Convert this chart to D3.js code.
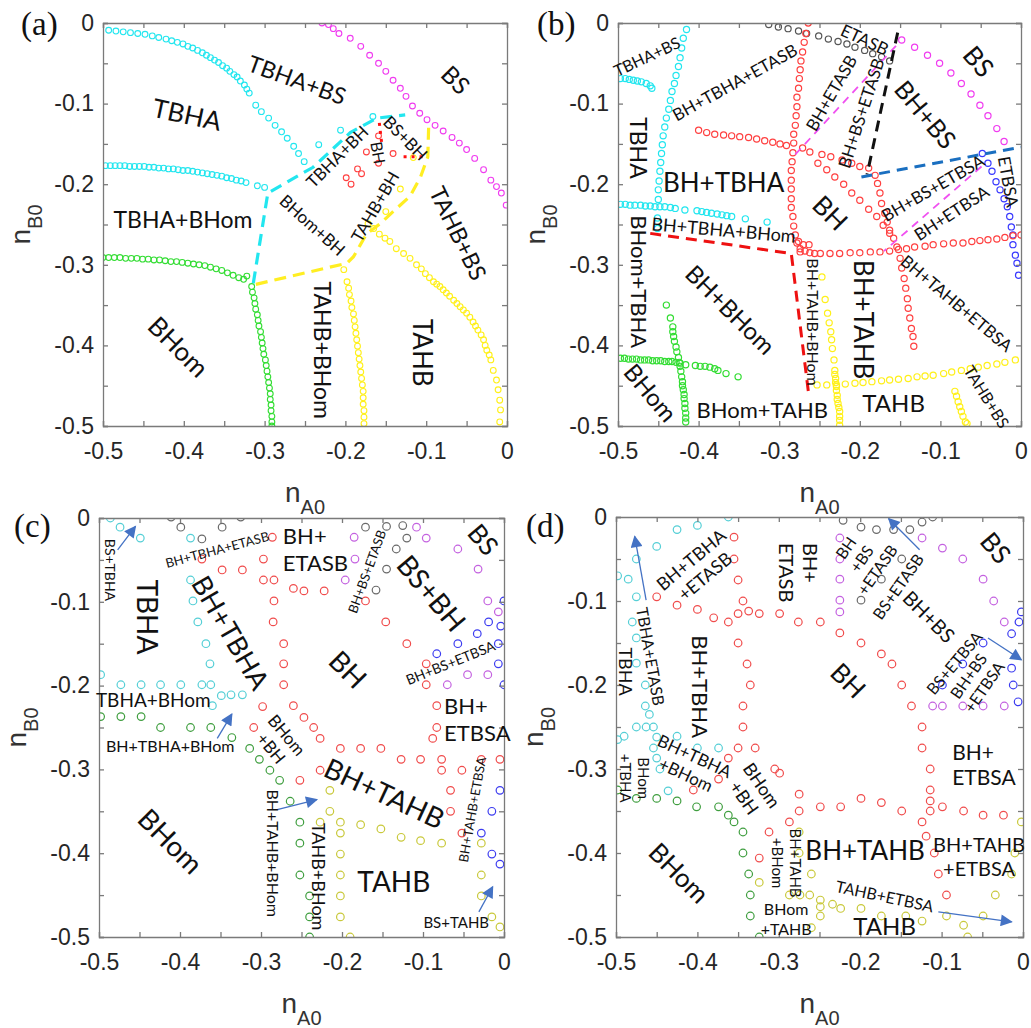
<!DOCTYPE html>
<html>
<head>
<meta charset="utf-8">
<script src="https://cdn.jsdelivr.net/npm/d3@7"></script>
<style>
  body { margin: 0; background: #fff; }
  svg { display: block; }
  .lbl { font-family: Lato, "Open Sans", sans-serif; fill: #111; }
  .axis text { font-family: "Liberation Sans", Arial, sans-serif; fill: #262626; }
  .axis path, .axis line { stroke: #7a7a7a; stroke-width: 1.3; }
  .alabel { font-family: "Liberation Sans", Arial, sans-serif; fill: #333; }
  .tag { font-family: "Liberation Serif", "DejaVu Serif", serif; fill: #111; }
</style>
</head>
<body>
<svg id="fig" width="1031" height="1028"></svg>
<script>
/* ========= ticks ========= */
const TICKS = [-0.5,-0.45,-0.4,-0.35,-0.3,-0.25,-0.2,-0.15,-0.1,-0.05,0];
const TICK_LABELS = ["-0.5","-0.4","-0.3","-0.2","-0.1","0"];

/* ========= (a) ========= */
const A_cyan1 = [[-0.493,-0.009],[-0.484,-0.010],[-0.475,-0.011],[-0.466,-0.012],[-0.457,-0.013],[-0.448,-0.014],[-0.439,-0.016],[-0.431,-0.018],[-0.422,-0.020],[-0.415,-0.022],[-0.408,-0.024],[-0.401,-0.026],[-0.395,-0.029],[-0.389,-0.031],[-0.383,-0.034],[-0.377,-0.037],[-0.372,-0.040],[-0.367,-0.043],[-0.362,-0.046],[-0.357,-0.049],[-0.352,-0.053],[-0.347,-0.056],[-0.343,-0.060],[-0.338,-0.064],[-0.334,-0.067],[-0.330,-0.072],[-0.325,-0.077],[-0.322,-0.082],[-0.319,-0.087],[-0.311,-0.102],[-0.304,-0.110],[-0.295,-0.118],[-0.287,-0.127],[-0.279,-0.135],[-0.272,-0.143],[-0.264,-0.153],[-0.258,-0.162],[-0.251,-0.172]];
const A_cyan2 = [[-0.497,-0.177],[-0.491,-0.177],[-0.485,-0.177],[-0.479,-0.177],[-0.473,-0.177],[-0.467,-0.178],[-0.461,-0.178],[-0.455,-0.178],[-0.449,-0.178],[-0.443,-0.179],[-0.437,-0.179],[-0.431,-0.180],[-0.425,-0.180],[-0.419,-0.181],[-0.413,-0.181],[-0.407,-0.182],[-0.401,-0.183],[-0.395,-0.183],[-0.389,-0.184],[-0.383,-0.185],[-0.377,-0.186],[-0.371,-0.187],[-0.365,-0.188],[-0.359,-0.189],[-0.353,-0.190],[-0.347,-0.192],[-0.341,-0.193],[-0.335,-0.195],[-0.329,-0.196],[-0.323,-0.198],[-0.309,-0.202],[-0.300,-0.204]];
const A_cyan3 = [[-0.233,-0.151],[-0.206,-0.133],[-0.166,-0.116]];
const A_magenta = [[-0.229,0.000],[-0.221,-0.002],[-0.215,-0.007],[-0.208,-0.013],[-0.194,-0.019],[-0.181,-0.029],[-0.170,-0.040],[-0.159,-0.050],[-0.150,-0.060],[-0.141,-0.071],[-0.132,-0.081],[-0.125,-0.091],[-0.117,-0.103],[-0.108,-0.112],[-0.099,-0.120],[-0.089,-0.127],[-0.079,-0.134],[-0.068,-0.142],[-0.059,-0.149],[-0.050,-0.157],[-0.040,-0.168],[-0.029,-0.182],[-0.020,-0.195],[-0.013,-0.203],[-0.007,-0.211],[-0.001,-0.226]];
const A_red = [[-0.159,-0.140],[-0.174,-0.160],[-0.141,-0.162],[-0.159,-0.174],[-0.199,-0.192],[-0.193,-0.200],[-0.185,-0.181],[-0.180,-0.187]];
const A_yellow1 = [[-0.172,-0.249],[-0.165,-0.255],[-0.158,-0.262],[-0.151,-0.267],[-0.145,-0.271],[-0.137,-0.280],[-0.128,-0.286],[-0.120,-0.292],[-0.112,-0.300],[-0.106,-0.305],[-0.101,-0.311],[-0.096,-0.316],[-0.091,-0.321],[-0.087,-0.324],[-0.083,-0.327],[-0.079,-0.331],[-0.075,-0.335],[-0.071,-0.339],[-0.066,-0.344],[-0.062,-0.348],[-0.058,-0.352],[-0.054,-0.356],[-0.050,-0.360],[-0.046,-0.365],[-0.042,-0.371],[-0.039,-0.376],[-0.036,-0.381],[-0.032,-0.387],[-0.029,-0.393],[-0.027,-0.400],[-0.025,-0.406],[-0.022,-0.412],[-0.020,-0.418],[-0.017,-0.431],[-0.013,-0.443],[-0.011,-0.455],[-0.009,-0.468],[-0.008,-0.480],[-0.009,-0.495]];
const A_yellow2 = [[-0.202,-0.306],[-0.198,-0.321],[-0.196,-0.329],[-0.195,-0.337],[-0.193,-0.345],[-0.192,-0.353],[-0.190,-0.361],[-0.189,-0.369],[-0.188,-0.377],[-0.187,-0.385],[-0.186,-0.393],[-0.185,-0.401],[-0.184,-0.409],[-0.183,-0.417],[-0.182,-0.425],[-0.181,-0.433],[-0.180,-0.441],[-0.179,-0.449],[-0.178,-0.457],[-0.178,-0.465],[-0.178,-0.473],[-0.177,-0.481],[-0.177,-0.489],[-0.177,-0.497]];
const A_yellow3 = [[-0.132,-0.206],[-0.150,-0.234],[-0.116,-0.167]];
const A_green1 = [[-0.500,-0.291],[-0.493,-0.291],[-0.486,-0.291],[-0.479,-0.291],[-0.472,-0.292],[-0.465,-0.292],[-0.458,-0.292],[-0.451,-0.293],[-0.444,-0.293],[-0.437,-0.294],[-0.430,-0.294],[-0.423,-0.295],[-0.416,-0.296],[-0.409,-0.296],[-0.402,-0.297],[-0.395,-0.298],[-0.388,-0.299],[-0.381,-0.300],[-0.374,-0.301],[-0.367,-0.303],[-0.360,-0.305],[-0.353,-0.307],[-0.346,-0.310],[-0.339,-0.313],[-0.332,-0.316],[-0.326,-0.318],[-0.322,-0.314]];
const A_green2 = [[-0.316,-0.327],[-0.315,-0.334],[-0.313,-0.341],[-0.312,-0.348],[-0.311,-0.355],[-0.309,-0.362],[-0.308,-0.369],[-0.307,-0.376],[-0.305,-0.383],[-0.304,-0.390],[-0.303,-0.397],[-0.302,-0.404],[-0.301,-0.411],[-0.299,-0.418],[-0.298,-0.425],[-0.297,-0.432],[-0.296,-0.439],[-0.295,-0.446],[-0.294,-0.453],[-0.293,-0.460],[-0.293,-0.467],[-0.292,-0.474],[-0.292,-0.481],[-0.291,-0.488],[-0.291,-0.495],[-0.291,-0.500]];
const A_dashCyan = [[-0.314,-0.323],[-0.296,-0.211],[-0.240,-0.179],[-0.194,-0.136],[-0.161,-0.118],[-0.126,-0.114]];
const A_dashYellow = [[-0.097,-0.130],[-0.098,-0.166],[-0.107,-0.191],[-0.120,-0.215],[-0.141,-0.234],[-0.157,-0.249],[-0.174,-0.262],[-0.190,-0.290],[-0.198,-0.298],[-0.314,-0.325]];
const A_dotRed1 = [[-0.158,-0.124],[-0.155,-0.150]];
const A_dotRed2 = [[-0.128,-0.166],[-0.101,-0.166]];
const A_labels = [
  {t:"TBHA+BS", x:-0.260, y:-0.071, rot:20, size:23},
  {t:"BS", x:-0.064, y:-0.071, rot:45, size:24},
  {t:"TBHA", x:-0.396, y:-0.114, rot:12, size:26},
  {t:"TBHA+BH", x:-0.210, y:-0.166, rot:-45, size:17},
  {t:"BS+BH", x:-0.126, y:-0.143, rot:45, size:17},
  {t:"BH", x:-0.160, y:-0.161, rot:80, size:16},
  {t:"TAHB+BH", x:-0.163, y:-0.228, rot:-60, size:17},
  {t:"BHom+BH", x:-0.241, y:-0.251, rot:42, size:17},
  {t:"TAHB+BS", x:-0.061, y:-0.261, rot:64, size:23},
  {t:"TBHA+BHom", x:-0.401, y:-0.244, rot:0, size:23},
  {t:"BHom", x:-0.407, y:-0.402, rot:45, size:26},
  {t:"TAHB+BHom", x:-0.229, y:-0.406, rot:90, size:23},
  {t:"TAHB", x:-0.105, y:-0.409, rot:90, size:26}
];

/* ========= (b) ========= */
const B_cyan1 = [[-0.497,-0.069],[-0.491,-0.069],[-0.486,-0.070],[-0.481,-0.071],[-0.476,-0.072],[-0.471,-0.073],[-0.465,-0.075],[-0.460,-0.078],[-0.458,-0.081]];
const B_cyan2 = [[-0.415,-0.008],[-0.419,-0.019],[-0.421,-0.031],[-0.423,-0.043],[-0.425,-0.054],[-0.428,-0.065],[-0.430,-0.075],[-0.433,-0.085],[-0.435,-0.096],[-0.437,-0.107],[-0.440,-0.118],[-0.442,-0.129],[-0.444,-0.140],[-0.445,-0.151],[-0.446,-0.162],[-0.447,-0.173],[-0.448,-0.184],[-0.449,-0.196],[-0.450,-0.207],[-0.450,-0.219],[-0.451,-0.242],[-0.451,-0.255]];
const B_cyan3 = [[-0.497,-0.225],[-0.491,-0.225],[-0.485,-0.226],[-0.479,-0.226],[-0.472,-0.226],[-0.466,-0.227],[-0.460,-0.227],[-0.454,-0.228],[-0.448,-0.228],[-0.442,-0.228],[-0.435,-0.229],[-0.429,-0.230],[-0.417,-0.232],[-0.402,-0.233],[-0.396,-0.234],[-0.390,-0.235],[-0.384,-0.236],[-0.377,-0.237],[-0.371,-0.238],[-0.365,-0.239],[-0.359,-0.240],[-0.342,-0.243],[-0.315,-0.247]];
const B_gray = [[-0.313,-0.002],[-0.301,-0.005],[-0.289,-0.007],[-0.276,-0.010],[-0.266,-0.013],[-0.251,-0.016],[-0.239,-0.020],[-0.227,-0.023],[-0.216,-0.026],[-0.206,-0.030],[-0.194,-0.034],[-0.184,-0.038],[-0.173,-0.042],[-0.163,-0.047]];
const B_magenta = [[-0.148,-0.021],[-0.132,-0.030],[-0.116,-0.040],[-0.101,-0.050],[-0.087,-0.062],[-0.074,-0.075],[-0.062,-0.088],[-0.051,-0.102],[-0.041,-0.115],[-0.030,-0.131],[-0.021,-0.147]];
const B_blue = [[-0.048,-0.162],[-0.041,-0.174],[-0.036,-0.184],[-0.031,-0.197],[-0.026,-0.207],[-0.021,-0.218],[-0.017,-0.228],[-0.014,-0.240],[-0.012,-0.253],[-0.010,-0.263],[-0.010,-0.275],[-0.007,-0.288],[-0.005,-0.298],[-0.003,-0.313]];
const B_red1 = [[-0.264,0.000],[-0.267,-0.013],[-0.269,-0.024],[-0.271,-0.036],[-0.273,-0.047],[-0.274,-0.058],[-0.275,-0.069],[-0.276,-0.081],[-0.278,-0.092],[-0.278,-0.104],[-0.279,-0.115],[-0.280,-0.127],[-0.282,-0.138],[-0.282,-0.149],[-0.283,-0.161],[-0.284,-0.172],[-0.285,-0.183],[-0.285,-0.195],[-0.285,-0.206],[-0.285,-0.218],[-0.285,-0.229],[-0.283,-0.240],[-0.282,-0.252],[-0.280,-0.263],[-0.276,-0.271],[-0.270,-0.275],[-0.278,-0.273],[-0.274,-0.280],[-0.268,-0.283],[-0.263,-0.275],[-0.256,-0.286]];
const B_red2 = [[-0.400,-0.133],[-0.390,-0.136],[-0.380,-0.138],[-0.369,-0.139],[-0.359,-0.140],[-0.349,-0.141],[-0.338,-0.142],[-0.328,-0.144],[-0.318,-0.146],[-0.308,-0.148],[-0.299,-0.150],[-0.291,-0.152],[-0.271,-0.155],[-0.262,-0.160],[-0.247,-0.163],[-0.236,-0.166],[-0.222,-0.170],[-0.210,-0.174],[-0.200,-0.178],[-0.189,-0.180],[-0.181,-0.189],[-0.178,-0.199],[-0.175,-0.211],[-0.173,-0.224],[-0.169,-0.236],[-0.166,-0.247],[-0.163,-0.257],[-0.158,-0.267],[-0.154,-0.278]];
const B_red3 = [[-0.252,-0.174],[-0.241,-0.182],[-0.231,-0.191],[-0.220,-0.200],[-0.210,-0.211],[-0.200,-0.220],[-0.189,-0.231],[-0.179,-0.240],[-0.171,-0.251],[-0.163,-0.261]];
const B_red4 = [[-0.274,-0.284],[-0.262,-0.285],[-0.249,-0.286],[-0.237,-0.286],[-0.225,-0.286],[-0.212,-0.285],[-0.200,-0.285],[-0.187,-0.284],[-0.175,-0.284],[-0.163,-0.283],[-0.152,-0.281],[-0.142,-0.280],[-0.132,-0.278],[-0.119,-0.277],[-0.109,-0.275],[-0.096,-0.274],[-0.084,-0.273],[-0.072,-0.273],[-0.061,-0.271],[-0.051,-0.270],[-0.041,-0.269],[-0.030,-0.268],[-0.020,-0.266],[-0.010,-0.264],[0.000,-0.263]];
const B_red5 = [[-0.150,-0.292],[-0.148,-0.304],[-0.145,-0.317],[-0.143,-0.329],[-0.141,-0.342],[-0.140,-0.354],[-0.138,-0.366],[-0.136,-0.379],[-0.134,-0.389],[-0.133,-0.401]];
const B_yellow1 = [[-0.253,-0.449],[-0.241,-0.449],[-0.229,-0.449],[-0.218,-0.448],[-0.206,-0.447],[-0.196,-0.446],[-0.185,-0.445],[-0.173,-0.444],[-0.163,-0.443],[-0.152,-0.442],[-0.140,-0.441],[-0.129,-0.439],[-0.119,-0.438],[-0.109,-0.437],[-0.096,-0.435],[-0.086,-0.433],[-0.074,-0.431],[-0.063,-0.429],[-0.053,-0.427],[-0.042,-0.425],[-0.030,-0.423],[-0.020,-0.421],[-0.007,-0.418]];
const B_yellow2 = [[-0.247,-0.315],[-0.243,-0.343],[-0.240,-0.360],[-0.238,-0.372],[-0.236,-0.383],[-0.235,-0.393],[-0.234,-0.404],[-0.232,-0.418],[-0.231,-0.431],[-0.231,-0.436],[-0.230,-0.441],[-0.230,-0.446],[-0.229,-0.451],[-0.229,-0.456],[-0.228,-0.462],[-0.228,-0.467],[-0.227,-0.472],[-0.226,-0.477],[-0.225,-0.482],[-0.225,-0.488],[-0.225,-0.493],[-0.225,-0.499]];
const B_yellow3 = [[-0.082,-0.457],[-0.080,-0.463],[-0.078,-0.470],[-0.076,-0.476],[-0.074,-0.482],[-0.072,-0.488],[-0.069,-0.495],[-0.067,-0.497]];
const B_green1 = [[-0.497,-0.416],[-0.492,-0.416],[-0.487,-0.417],[-0.482,-0.417],[-0.477,-0.417],[-0.472,-0.418],[-0.467,-0.418],[-0.462,-0.418],[-0.457,-0.419],[-0.452,-0.419],[-0.447,-0.419],[-0.442,-0.420],[-0.437,-0.420],[-0.433,-0.420],[-0.428,-0.421],[-0.423,-0.422],[-0.416,-0.424],[-0.404,-0.425],[-0.398,-0.426],[-0.392,-0.426],[-0.386,-0.427],[-0.380,-0.429],[-0.376,-0.431],[-0.366,-0.435],[-0.351,-0.439]];
const B_green2 = [[-0.440,-0.350],[-0.435,-0.366],[-0.432,-0.377],[-0.432,-0.383],[-0.431,-0.389],[-0.430,-0.395],[-0.428,-0.402],[-0.427,-0.408],[-0.425,-0.415],[-0.424,-0.421],[-0.423,-0.426],[-0.422,-0.432],[-0.421,-0.439],[-0.420,-0.445],[-0.420,-0.450],[-0.419,-0.455],[-0.418,-0.461],[-0.418,-0.466],[-0.417,-0.472],[-0.417,-0.478],[-0.416,-0.484],[-0.416,-0.490],[-0.416,-0.495]];
const B_dashRed = [[-0.460,-0.261],[-0.285,-0.286],[-0.263,-0.464]];
const B_dashMag1 = [[-0.280,-0.163],[-0.152,-0.025]];
const B_dashMag2 = [[-0.049,-0.178],[-0.170,-0.283]];
const B_dashBlack = [[-0.153,-0.012],[-0.191,-0.188]];
const B_dashBlue = [[-0.198,-0.191],[0.000,-0.154]];
const B_labels = [
  {t:"TBHA+BS", x:-0.464, y:-0.042, rot:-25, size:16},
  {t:"BH+TBHA+ETASB", x:-0.355, y:-0.074, rot:-29, size:17},
  {t:"TBHA", x:-0.475, y:-0.155, rot:90, size:23},
  {t:"BH+TBHA", x:-0.369, y:-0.198, rot:0, size:26},
  {t:"BH+TBHA+BHom", x:-0.369, y:-0.257, rot:5, size:18},
  {t:"BHom+TBHA", x:-0.474, y:-0.321, rot:90, size:22},
  {t:"BHom", x:-0.460, y:-0.459, rot:50, size:24},
  {t:"BH+BHom", x:-0.361, y:-0.356, rot:45, size:24},
  {t:"BHom+TAHB", x:-0.321, y:-0.480, rot:0, size:22},
  {t:"BH+TAHB+BHom", x:-0.259, y:-0.371, rot:90, size:16},
  {t:"BH+TAHB", x:-0.196, y:-0.368, rot:90, size:26},
  {t:"TAHB", x:-0.158, y:-0.472, rot:0, size:24},
  {t:"BH+TAHB+ETBSA", x:-0.080, y:-0.348, rot:40, size:17},
  {t:"TAHB+BS", x:-0.043, y:-0.464, rot:58, size:16},
  {t:"ETASB", x:-0.194, y:-0.021, rot:25, size:17},
  {t:"BH+ETASB", x:-0.235, y:-0.087, rot:-60, size:17},
  {t:"BH+BS+ETASB", x:-0.198, y:-0.112, rot:-72, size:17},
  {t:"BH+BS", x:-0.119, y:-0.114, rot:50, size:25},
  {t:"BS", x:-0.053, y:-0.048, rot:50, size:26},
  {t:"BH+BS+ETBSA", x:-0.109, y:-0.205, rot:-30, size:17},
  {t:"BH+ETBSA", x:-0.086, y:-0.236, rot:-33, size:17},
  {t:"ETBSA", x:-0.016, y:-0.197, rot:80, size:17},
  {t:"BH", x:-0.237, y:-0.236, rot:45, size:26}
];

/* ========= (c) ========= */
const C_cyan = [[-0.486,0.000],[-0.474,-0.011],[-0.449,-0.024],[-0.387,-0.024],[-0.387,-0.074],[-0.384,-0.099],[-0.378,-0.124],[-0.368,-0.150],[-0.363,-0.174],[-0.498,-0.187],[-0.473,-0.199],[-0.448,-0.199],[-0.424,-0.199],[-0.399,-0.199],[-0.373,-0.199],[-0.362,-0.199],[-0.349,-0.212],[-0.337,-0.211],[-0.323,-0.211],[-0.360,-0.224]];
const C_gray = [[-0.411,0.001],[-0.399,-0.011],[-0.373,-0.025],[-0.348,-0.011],[-0.325,0.001],[-0.171,-0.011],[-0.145,-0.010],[-0.125,-0.009],[-0.120,-0.024],[-0.133,-0.037],[-0.145,-0.061],[-0.158,-0.086]];
const C_magenta = [[-0.185,-0.023],[-0.184,-0.049],[-0.196,-0.074],[-0.108,-0.011],[-0.096,-0.024],[-0.057,-0.037],[-0.032,-0.061],[-0.020,-0.099],[-0.007,-0.112],[-0.045,-0.187],[-0.020,-0.187],[-0.070,-0.199]];
const C_blue = [[0.000,-0.099],[-0.019,-0.124],[-0.004,-0.129],[-0.033,-0.138],[-0.057,-0.150],[-0.007,-0.150],[-0.083,-0.162],[-0.007,-0.174],[0.000,-0.199],[-0.005,-0.325],[-0.015,-0.350],[-0.028,-0.376],[-0.015,-0.401],[-0.005,-0.413]];
const C_red = [[-0.286,-0.023],[-0.373,-0.049],[-0.348,-0.062],[-0.323,-0.062],[-0.297,-0.049],[-0.297,-0.074],[-0.284,-0.074],[-0.284,-0.099],[-0.285,-0.124],[-0.298,-0.225],[-0.309,-0.250],[-0.260,-0.084],[-0.247,-0.087],[-0.222,-0.087],[-0.272,-0.150],[-0.272,-0.174],[-0.272,-0.199],[-0.260,-0.224],[-0.247,-0.238],[-0.235,-0.250],[-0.171,-0.099],[-0.146,-0.124],[-0.120,-0.150],[-0.096,-0.174],[-0.096,-0.199],[-0.083,-0.224],[-0.083,-0.250],[-0.227,-0.263],[-0.202,-0.275],[-0.177,-0.275],[-0.152,-0.275],[-0.127,-0.288],[-0.103,-0.288],[-0.077,-0.288],[-0.077,-0.301],[-0.052,-0.301],[-0.028,-0.288],[-0.005,-0.288],[-0.227,-0.301],[-0.252,-0.313],[-0.066,-0.325],[-0.066,-0.350],[-0.052,-0.376],[-0.088,-0.263]];
const C_green = [[-0.498,-0.237],[-0.473,-0.237],[-0.448,-0.237],[-0.424,-0.250],[-0.387,-0.250],[-0.362,-0.250],[-0.336,-0.262],[-0.314,-0.275],[-0.302,-0.288],[-0.289,-0.301],[-0.277,-0.313],[-0.264,-0.338],[-0.252,-0.363],[-0.252,-0.388],[-0.252,-0.426],[-0.240,-0.451],[-0.240,-0.476],[-0.240,-0.500]];
const C_yellow = [[-0.215,-0.325],[-0.215,-0.350],[-0.227,-0.363],[-0.202,-0.363],[-0.202,-0.376],[-0.177,-0.366],[-0.152,-0.371],[-0.127,-0.381],[-0.103,-0.385],[-0.077,-0.388],[-0.202,-0.401],[-0.202,-0.426],[-0.202,-0.451],[-0.202,-0.476],[-0.190,-0.500],[-0.028,-0.388],[-0.028,-0.426],[-0.028,-0.451],[-0.015,-0.476],[-0.005,-0.488]];
const C_arrows = [[[-0.477,-0.038],[-0.455,-0.010]],[[-0.354,-0.263],[-0.336,-0.234]],[[-0.280,-0.348],[-0.231,-0.336]],[[-0.031,-0.470],[-0.014,-0.440]]];
const C_labels = [
  {t:"BS+TBHA", x:-0.486, y:-0.062, rot:90, size:14},
  {t:"BH+TBHA+ETASB", x:-0.354, y:-0.038, rot:-15, size:13},
  {t:"TBHA", x:-0.441, y:-0.118, rot:90, size:28},
  {t:"BH+TBHA", x:-0.338, y:-0.137, rot:60, size:27},
  {t:"TBHA+BHom", x:-0.433, y:-0.217, rot:0, size:19},
  {t:"BH+TBHA+BHom", x:-0.412, y:-0.273, rot:0, size:16},
  {t:["BHom","+BH"], x:-0.278, y:-0.267, rot:50, size:17},
  {t:"BH+TAHB+BHom", x:-0.286, y:-0.400, rot:90, size:16},
  {t:"TAHB+BHom", x:-0.229, y:-0.428, rot:90, size:18},
  {t:"BH+TAHB", x:-0.148, y:-0.329, rot:25, size:28},
  {t:"TAHB", x:-0.136, y:-0.434, rot:0, size:28},
  {t:"BHom", x:-0.412, y:-0.386, rot:45, size:28},
  {t:"BH+TAHB+ETBSA", x:-0.039, y:-0.348, rot:-80, size:13},
  {t:"BS+TAHB", x:-0.059, y:-0.483, rot:0, size:15},
  {t:["BH+","ETASB"], x:-0.273, y:-0.038, rot:0, size:22, anchor:"start"},
  {t:"BH+BS+ETASB", x:-0.169, y:-0.064, rot:-70, size:13},
  {t:"BS+BH", x:-0.090, y:-0.090, rot:50, size:28},
  {t:"BS", x:-0.026, y:-0.026, rot:50, size:26},
  {t:"BH", x:-0.193, y:-0.181, rot:45, size:28},
  {t:"BH+BS+ETBSA", x:-0.066, y:-0.173, rot:-22, size:14},
  {t:["BH+","ETBSA"], x:-0.074, y:-0.241, rot:0, size:22, anchor:"start"}
];

/* ========= (d) ========= */
const D_cyan = [[-0.400,-0.010],[-0.425,-0.015],[-0.362,0.000],[-0.450,-0.035],[-0.475,-0.050],[-0.498,-0.070],[-0.485,-0.074],[-0.475,-0.095],[-0.480,-0.125],[-0.475,-0.144],[-0.475,-0.174],[-0.464,-0.200],[-0.464,-0.225],[-0.459,-0.235],[-0.475,-0.250],[-0.463,-0.250],[-0.454,-0.250],[-0.490,-0.261],[-0.498,-0.265],[-0.450,-0.262],[-0.425,-0.261],[-0.450,-0.287],[-0.454,-0.275],[-0.400,-0.275],[-0.374,-0.275],[-0.446,-0.300],[-0.436,-0.326]];
const D_gray = [[-0.221,-0.004],[-0.199,-0.012],[-0.180,-0.015],[-0.159,-0.015],[-0.139,-0.015],[-0.124,-0.006],[-0.111,0.000],[-0.149,-0.050],[-0.174,-0.074],[-0.199,-0.099]];
const D_magenta = [[-0.225,-0.025],[-0.225,-0.050],[-0.225,-0.074],[-0.225,-0.099],[-0.225,-0.113],[-0.124,-0.025],[-0.099,-0.037],[-0.074,-0.050],[-0.049,-0.074],[-0.036,-0.100],[-0.023,-0.125],[-0.111,-0.225],[-0.099,-0.225],[-0.074,-0.225],[-0.049,-0.225],[-0.023,-0.225]];
const D_blue = [[-0.002,-0.113],[-0.005,-0.125],[-0.014,-0.139],[-0.049,-0.150],[-0.074,-0.175],[-0.014,-0.180],[-0.099,-0.200],[-0.012,-0.200],[-0.006,-0.220]];
const D_red = [[-0.355,-0.024],[-0.355,-0.050],[-0.350,-0.075],[-0.450,-0.095],[-0.425,-0.105],[-0.400,-0.110],[-0.380,-0.120],[-0.362,-0.125],[-0.350,-0.115],[-0.344,-0.100],[-0.337,-0.112],[-0.324,-0.115],[-0.299,-0.115],[-0.276,-0.125],[-0.350,-0.150],[-0.339,-0.175],[-0.335,-0.200],[-0.344,-0.225],[-0.344,-0.250],[-0.350,-0.275],[-0.329,-0.275],[-0.362,-0.287],[-0.374,-0.312],[-0.405,-0.325],[-0.305,-0.300],[-0.299,-0.305],[-0.275,-0.330],[-0.275,-0.350],[-0.287,-0.363],[-0.312,-0.375],[-0.324,-0.406],[-0.249,-0.345],[-0.224,-0.345],[-0.199,-0.335],[-0.174,-0.340],[-0.149,-0.350],[-0.124,-0.363],[-0.119,-0.380],[-0.109,-0.400],[-0.104,-0.425],[-0.094,-0.450],[-0.114,-0.350],[-0.114,-0.338],[-0.114,-0.325],[-0.114,-0.300],[-0.099,-0.345],[-0.073,-0.350],[-0.049,-0.355],[-0.024,-0.355],[-0.249,-0.125],[-0.225,-0.138],[-0.199,-0.150],[-0.174,-0.163],[-0.161,-0.175],[-0.149,-0.200],[-0.137,-0.225],[-0.124,-0.250],[-0.124,-0.275]];
const D_green = [[-0.498,-0.325],[-0.475,-0.335],[-0.450,-0.335],[-0.425,-0.338],[-0.401,-0.345],[-0.374,-0.345],[-0.362,-0.355],[-0.355,-0.363],[-0.344,-0.375],[-0.344,-0.400],[-0.337,-0.425],[-0.335,-0.450],[-0.335,-0.475],[-0.324,-0.500]];
const D_yellow = [[-0.275,-0.375],[-0.275,-0.400],[-0.260,-0.425],[-0.324,-0.435],[-0.287,-0.450],[-0.274,-0.450],[-0.262,-0.450],[-0.249,-0.456],[-0.249,-0.464],[-0.249,-0.475],[-0.234,-0.461],[-0.224,-0.466],[-0.199,-0.466],[-0.174,-0.475],[-0.144,-0.475],[-0.124,-0.481],[-0.094,-0.475],[-0.073,-0.486],[-0.068,-0.500],[-0.049,-0.475],[-0.034,-0.450],[-0.014,-0.425],[-0.010,-0.400],[-0.002,-0.363],[-0.260,-0.489]];
const D_arrows = [[[-0.463,-0.099],[-0.477,-0.023]],[[-0.127,-0.039],[-0.165,-0.002]],[[-0.043,-0.144],[-0.002,-0.170]],[[-0.104,-0.470],[-0.014,-0.482]]];
const D_labels = [
  {t:["BH+TBHA","+ETASB"], x:-0.399, y:-0.061, rot:-40, size:18},
  {t:["BH+","ETASB"], x:-0.277, y:-0.031, rot:90, size:20, anchor:"start"},
  {t:"TBHA+ETASB", x:-0.458, y:-0.166, rot:80, size:16},
  {t:"TBHA", x:-0.489, y:-0.184, rot:90, size:18},
  {t:"BH+TBHA", x:-0.397, y:-0.202, rot:90, size:22},
  {t:["BHom","+TBHA"], x:-0.478, y:-0.311, rot:90, size:15},
  {t:["BH+TBHA","+BHom"], x:-0.409, y:-0.296, rot:25, size:17},
  {t:["BHom","+BH"], x:-0.332, y:-0.327, rot:55, size:18},
  {t:["BH+TAHB","+BHom"], x:-0.291, y:-0.412, rot:90, size:15},
  {t:"BH+TAHB", x:-0.194, y:-0.398, rot:0, size:26},
  {t:["BH+TAHB","+ETBSA"], x:-0.054, y:-0.405, rot:0, size:20},
  {t:"TAHB+ETBSA", x:-0.170, y:-0.452, rot:12, size:16},
  {t:["BHom","+TAHB"], x:-0.291, y:-0.479, rot:0, size:16},
  {t:"TAHB", x:-0.170, y:-0.488, rot:0, size:24},
  {t:"BHom", x:-0.423, y:-0.424, rot:45, size:26},
  {t:["BH+","ETBSA"], x:-0.087, y:-0.295, rot:0, size:21, anchor:"start"},
  {t:"BH", x:-0.215, y:-0.195, rot:45, size:26},
  {t:"BS", x:-0.034, y:-0.037, rot:50, size:26},
  {t:"BH+BS", x:-0.116, y:-0.119, rot:45, size:20},
  {t:["BH","+BS","+ETASB"], x:-0.198, y:-0.050, rot:-55, size:16},
  {t:"BS+ETASB", x:-0.153, y:-0.083, rot:-55, size:16},
  {t:"BS+ETBSA", x:-0.084, y:-0.174, rot:-50, size:16},
  {t:["BH+BS","+ETBSA"], x:-0.057, y:-0.196, rot:-55, size:16}
];

/* ========= palettes ========= */
const COL_AB = {cyan:"#22e6ef", magenta:"#f03cf0", red:"#ff4040", green:"#33dd33", yellow:"#fff01a", gray:"#555555", blue:"#3838ff"};
const COL_CD = {cyan:"#55cfd6", magenta:"#c462e0", red:"#f04c4c", green:"#3f9e3f", yellow:"#c9c93c", gray:"#6a6a6a", blue:"#3c3cf0"};

const panels = [
  { id:"a", tag:"(a)", box:[103,23,507,426], tagX:21, tagY:35, r:2.9, sw:1.1,
    series:[
      {pts:A_cyan1,c:COL_AB.cyan},{pts:A_cyan2,c:COL_AB.cyan},{pts:A_cyan3,c:COL_AB.cyan},
      {pts:A_magenta,c:COL_AB.magenta},{pts:A_red,c:COL_AB.red},
      {pts:A_yellow1,c:COL_AB.yellow},{pts:A_yellow2,c:COL_AB.yellow},{pts:A_yellow3,c:COL_AB.yellow},
      {pts:A_green1,c:COL_AB.green},{pts:A_green2,c:COL_AB.green}],
    dashes:[
      {pts:A_dashCyan,c:"#22e6ef",dash:"12,7",w:3.2},
      {pts:A_dashYellow,c:"#ffee22",dash:"12,7",w:3.2},
      {pts:A_dotRed1,c:"#ff1010",dash:"3,5",w:3},
      {pts:A_dotRed2,c:"#ff1010",dash:"3,5",w:3}],
    arrows:[], labels:A_labels },
  { id:"b", tag:"(b)", box:[618,23,1021,426], tagX:537, tagY:35, r:3.1, sw:1.2,
    series:[
      {pts:B_cyan1,c:COL_AB.cyan},{pts:B_cyan2,c:COL_AB.cyan},{pts:B_cyan3,c:COL_AB.cyan},
      {pts:B_gray,c:COL_AB.gray},{pts:B_magenta,c:COL_AB.magenta},{pts:B_blue,c:COL_AB.blue},
      {pts:B_red1,c:COL_AB.red},{pts:B_red2,c:COL_AB.red},{pts:B_red3,c:COL_AB.red},{pts:B_red4,c:COL_AB.red},{pts:B_red5,c:COL_AB.red},
      {pts:B_yellow1,c:COL_AB.yellow},{pts:B_yellow2,c:COL_AB.yellow},{pts:B_yellow3,c:COL_AB.yellow},
      {pts:B_green1,c:COL_AB.green},{pts:B_green2,c:COL_AB.green}],
    dashes:[
      {pts:B_dashRed,c:"#ee1111",dash:"11,7",w:3},
      {pts:B_dashMag1,c:"#f050f0",dash:"8,6",w:1.8},
      {pts:B_dashMag2,c:"#f050f0",dash:"8,6",w:1.8},
      {pts:B_dashBlack,c:"#111111",dash:"11,7",w:3},
      {pts:B_dashBlue,c:"#1a6fc0",dash:"11,7",w:3}],
    arrows:[], labels:B_labels },
  { id:"c", tag:"(c)", box:[99,518,504,937], tagX:14, tagY:537, r:3.8, sw:1.2,
    series:[
      {pts:C_cyan,c:COL_CD.cyan},{pts:C_gray,c:COL_CD.gray},{pts:C_magenta,c:COL_CD.magenta},
      {pts:C_blue,c:COL_CD.blue},{pts:C_red,c:COL_CD.red},{pts:C_green,c:COL_CD.green},{pts:C_yellow,c:COL_CD.yellow}],
    dashes:[], arrows:C_arrows, labels:C_labels },
  { id:"d", tag:"(d)", box:[616,517,1023,937], tagX:526, tagY:537, r:3.8, sw:1.2,
    series:[
      {pts:D_cyan,c:COL_CD.cyan},{pts:D_gray,c:COL_CD.gray},{pts:D_magenta,c:COL_CD.magenta},
      {pts:D_blue,c:COL_CD.blue},{pts:D_red,c:COL_CD.red},{pts:D_green,c:COL_CD.green},{pts:D_yellow,c:COL_CD.yellow}],
    dashes:[], arrows:D_arrows, labels:D_labels }
];

/* ========= draw ========= */
const svg = d3.select("#fig");
const defs = svg.append("defs");
defs.append("marker").attr("id","head").attr("viewBox","0 0 10 10")
  .attr("refX",9).attr("refY",5).attr("markerWidth",16).attr("markerHeight",12)
  .attr("markerUnits","userSpaceOnUse").attr("orient","auto")
  .append("path").attr("d","M0,0 L10,5 L0,10 Z").attr("fill","#4472c4");

const tickFmt = (d,i) => (i % 2 === 0 ? TICK_LABELS[i/2] : "");

function drawPanel(p) {
  const [L,T,R,B] = p.box;
  const x = d3.scaleLinear().domain([-0.5,0]).range([L,R]);
  const y = d3.scaleLinear().domain([-0.5,0]).range([B,T]);
  const g = svg.append("g").attr("class","panel-"+p.id);

  defs.append("clipPath").attr("id","clip-"+p.id)
    .append("rect").attr("x",L).attr("y",T).attr("width",R-L).attr("height",B-T);
  const plot = g.append("g").attr("clip-path",`url(#clip-${p.id})`);

  // markers
  p.series.forEach(s => {
    plot.append("g").selectAll("circle").data(s.pts).join("circle")
      .attr("cx",d=>x(d[0])).attr("cy",d=>y(d[1])).attr("r",p.r)
      .attr("fill","none").attr("stroke",s.c).attr("stroke-width",p.sw);
  });

  // dashed boundaries
  const line = d3.line().x(d=>x(d[0])).y(d=>y(d[1]));
  p.dashes.forEach(d => {
    plot.append("path").datum(d.pts).attr("d",line)
      .attr("fill","none").attr("stroke",d.c).attr("stroke-width",d.w)
      .attr("stroke-dasharray",d.dash);
  });

  // arrows
  p.arrows.forEach(a => {
    g.append("line").attr("x1",x(a[0][0])).attr("y1",y(a[0][1]))
      .attr("x2",x(a[1][0])).attr("y2",y(a[1][1]))
      .attr("stroke","#4472c4").attr("stroke-width",1.3).attr("marker-end","url(#head)");
  });

  // axes (box, ticks inward)
  const ax = g.append("g").attr("class","axis");
  ax.append("g").attr("transform",`translate(0,${B})`)
    .call(d3.axisBottom(x).tickValues(TICKS).tickSize(-5).tickPadding(17).tickFormat(tickFmt));
  ax.append("g").attr("transform",`translate(0,${T})`)
    .call(d3.axisTop(x).tickValues(TICKS).tickSize(-5).tickFormat(""));
  ax.append("g").attr("transform",`translate(${L},0)`)
    .call(d3.axisLeft(y).tickValues(TICKS).tickSize(-5).tickPadding(9).tickFormat(tickFmt));
  ax.append("g").attr("transform",`translate(${R},0)`)
    .call(d3.axisRight(y).tickValues(TICKS).tickSize(-5).tickFormat(""));
  ax.selectAll("g").attr("font-size",null).attr("font-family",null);
  ax.selectAll("text").style("font-size","23px");

  // axis titles
  const xl = g.append("text").attr("class","alabel").attr("x",(L+R)/2).attr("y",B+76)
    .attr("text-anchor","middle").style("font-size","28px");
  xl.append("tspan").text("n");
  xl.append("tspan").attr("dy",12).style("font-size","20px").text("A0");
  const yl = g.append("text").attr("class","alabel")
    .attr("transform",`translate(${L-73},${(T+B)/2}) rotate(-90)`)
    .attr("text-anchor","middle").style("font-size","28px");
  yl.append("tspan").text("n");
  yl.append("tspan").attr("dy",12).style("font-size","20px").text("B0");

  // panel tag
  g.append("text").attr("class","tag").attr("x",p.tagX).attr("y",p.tagY)
    .style("font-size","33px").text(p.tag);

  // region labels
  p.labels.forEach(l => {
    const lines = Array.isArray(l.t) ? l.t : [l.t];
    const t = g.append("text").attr("class","lbl")
      .attr("transform",`translate(${x(l.x)},${y(l.y)}) rotate(${l.rot})`)
      .attr("text-anchor", l.anchor || "middle")
      .style("font-size", l.size + "px");
    lines.forEach((s,i) => {
      t.append("tspan").attr("x",0)
        .attr("dy", i === 0 ? (0.35 - (lines.length-1)*0.6) + "em" : "1.2em")
        .text(s);
    });
  });
}

panels.forEach(drawPanel);
</script>
</body>
</html>
